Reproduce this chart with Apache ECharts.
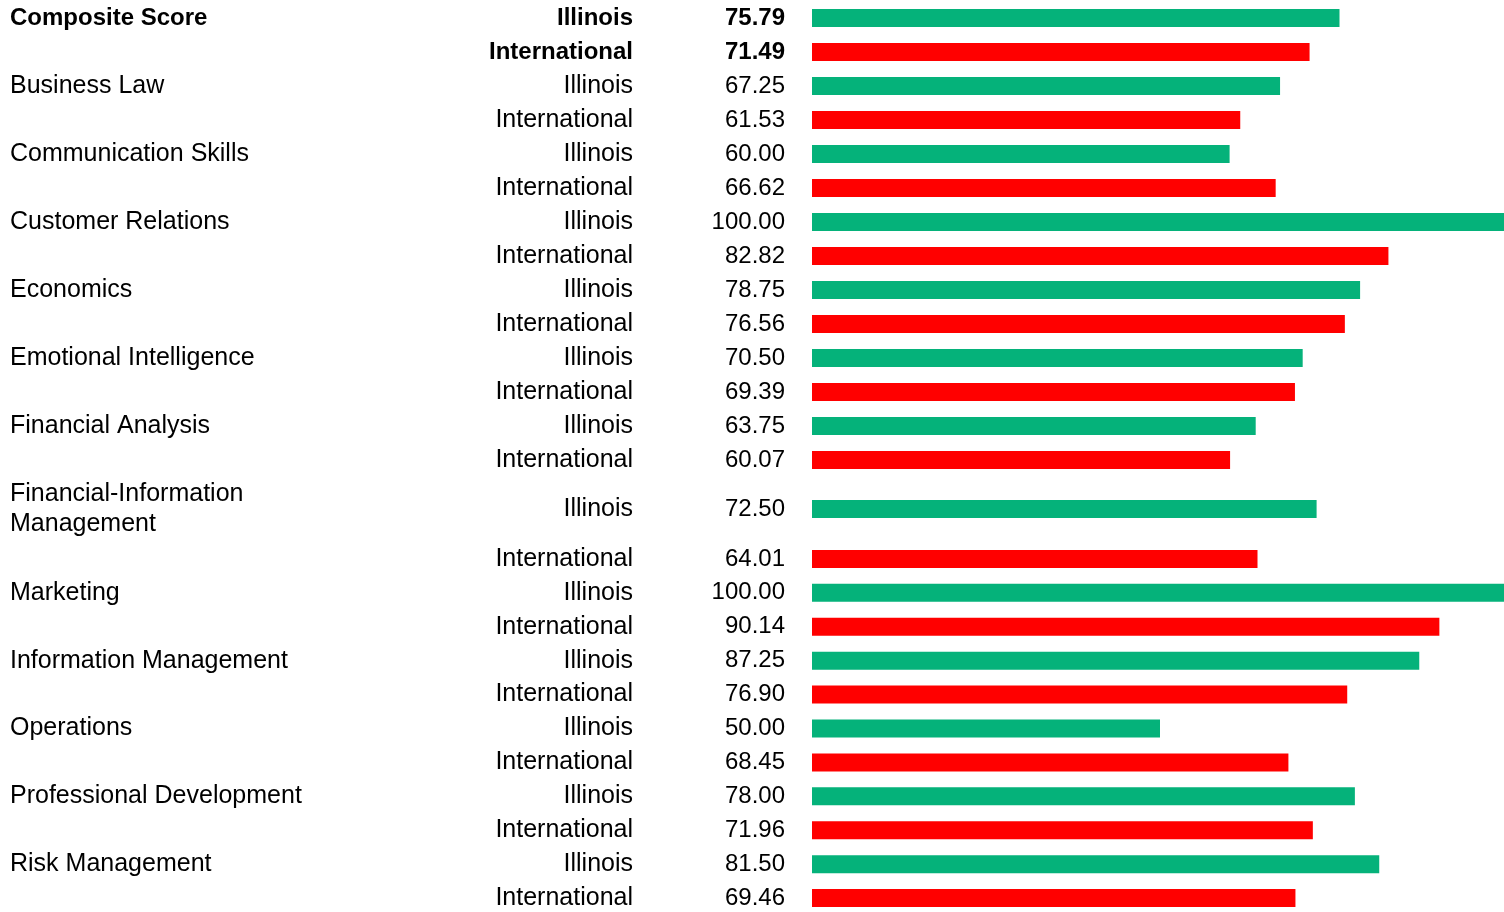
<!DOCTYPE html>
<html>
<head>
<meta charset="utf-8">
<script src="https://cdn.jsdelivr.net/npm/echarts@6/dist/echarts.min.js"></script>
<style>
html,body{margin:0;padding:0;background:#fff;}
#chart{width:1504px;height:912px;}
</style>
</head>
<body>
<div id="chart"></div>
<script>
// ---- data ----
const categories = ['Composite Score','Business Law','Communication Skills','Customer Relations','Economics','Emotional Intelligence','Financial Analysis','Financial-Information\nManagement','Marketing','Information Management','Operations','Professional Development','Risk Management'];
const groups = ['Illinois','International'];
const illinois = [75.79, 67.25, 60.00, 100.00, 78.75, 70.50, 63.75, 72.50, 100.00, 87.25, 50.00, 78.00, 81.50];
const international = [71.49, 61.53, 66.62, 82.82, 76.56, 69.39, 60.07, 64.01, 90.14, 76.90, 68.45, 71.96, 69.46];

// ---- layout ----
const colors = ['#05B27A', '#FF0000'];
const FONT = "'Liberation Sans', Arial, sans-serif";
const rows = [];
categories.forEach((c, i) => {
  rows.push({cat: c, group: groups[0], value: illinois[i], bold: i === 0, gi: 0});
  rows.push({cat: '', group: groups[1], value: international[i], bold: i === 0, gi: 1});
});
// segments: [startRow, endRow, top, height]
const segments = [[0, 14, 1, 476], [14, 15, 477, 64], [15, 26, 542, 373]];

const option = {animation: false, backgroundColor: '#fff', grid: [], xAxis: [], yAxis: [], series: []};
function item(text, bold, align) {
  return bold ? {value: text, textStyle: {fontWeight: 'bold', align: align, fontSize: 24}} : text;
}
segments.forEach((s, k) => {
  const seg = rows.slice(s[0], s[1]);
  option.grid.push({left: 812, width: 696, top: s[2], height: s[3], containLabel: false, outerBoundsMode: 'none'});
  option.xAxis.push({type: 'value', gridIndex: k, min: 0, max: 100, show: false});
  const base = {type: 'category', gridIndex: k, inverse: true, position: 'left', offset: 0,
    axisLine: {show: false}, axisTick: {show: false}, splitLine: {show: false}};
  const lbl = {interval: 0, fontSize: 25, color: '#000', fontFamily: FONT, lineHeight: 30};
  const yStart = option.yAxis.length;
  option.yAxis.push(Object.assign({}, base, {
    data: seg.map((r, i) => item(r.group + '#' + i, r.bold, 'right')),
    axisLabel: Object.assign({}, lbl, {margin: 27, align: 'right', fontSize: 24,
      formatter: (v, i) => seg[i].value.toFixed(2)})
  }));
  option.yAxis.push(Object.assign({}, base, {
    data: seg.map(r => item(r.group, r.bold, 'right')),
    axisLabel: Object.assign({}, lbl, {margin: 179, align: 'right'})
  }));
  option.yAxis.push(Object.assign({}, base, {
    data: seg.map((r, i) => item(r.cat === '' ? ' ' : r.cat, r.bold, 'left')),
    axisLabel: Object.assign({}, lbl, {margin: 802, align: 'left'})
  }));
  option.series.push({
    type: 'bar', xAxisIndex: k, yAxisIndex: yStart, barWidth: 18, silent: true,
    data: seg.map(r => ({value: r.value, itemStyle: {color: colors[r.gi]}}))
  });
});
const chart = echarts.init(document.getElementById('chart'), null, {renderer: 'canvas'});
chart.setOption(option);
</script>
</body>
</html>
